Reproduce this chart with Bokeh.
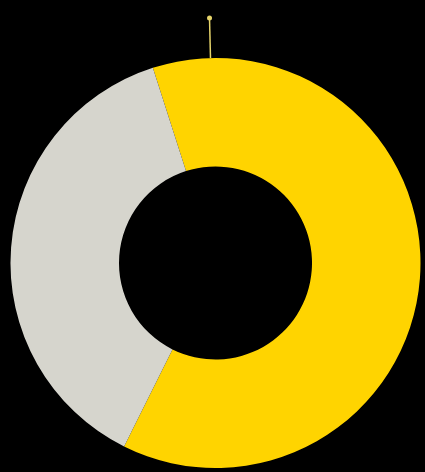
import math
from bokeh.plotting import figure
from bokeh.embed import file_html
from bokeh.resources import INLINE

# data
categories = ["Yes", "No"]
shares = [62.3, 37.7]
colors = ["#FFD400", "#D6D5CD"]

W, H = 425, 472
p = figure(width=W, height=H, output_backend="svg", toolbar_location=None,
           x_range=(0, W), y_range=(0, H), min_border=0)
p.axis.visible = False
p.grid.visible = False
p.outline_line_color = None
p.background_fill_color = "#000000"
p.border_fill_color = "#000000"

cx, cy = 215, H - 262.5
r_out, r_in = 205, 96.5
start_deg = 90 + 17.8  # first slice starts slightly left of top, runs clockwise

total = sum(shares)
a = start_deg
starts, ends = [], []
for s in shares:
    span = s / total * 360.0
    ends.append(math.radians(a))
    starts.append(math.radians(a - span))
    a -= span

p.annular_wedge(x=[cx] * len(shares), y=[cy] * len(shares), inner_radius=r_in,
                outer_radius=r_out, start_angle=starts, end_angle=ends,
                fill_color=colors, line_color=None)

# leader line at top
lead_ang = math.radians(91.4)
x0 = cx + r_out * math.cos(lead_ang)
y0 = cy + r_out * math.sin(lead_ang)
x1 = cx + (r_out + 40) * math.cos(lead_ang)
y1 = cy + (r_out + 40) * math.sin(lead_ang)
p.line([x0, x1], [y0, y1], line_color="#E6D46A", line_width=1.5)
p.scatter([x1], [y1], size=5, fill_color="#E6D46A", line_color=None)

html = file_html(p, INLINE)
html = html.replace("</head>", "<style>body{background:#000;}</style></head>", 1)
open("out.html", "w").write(html)
